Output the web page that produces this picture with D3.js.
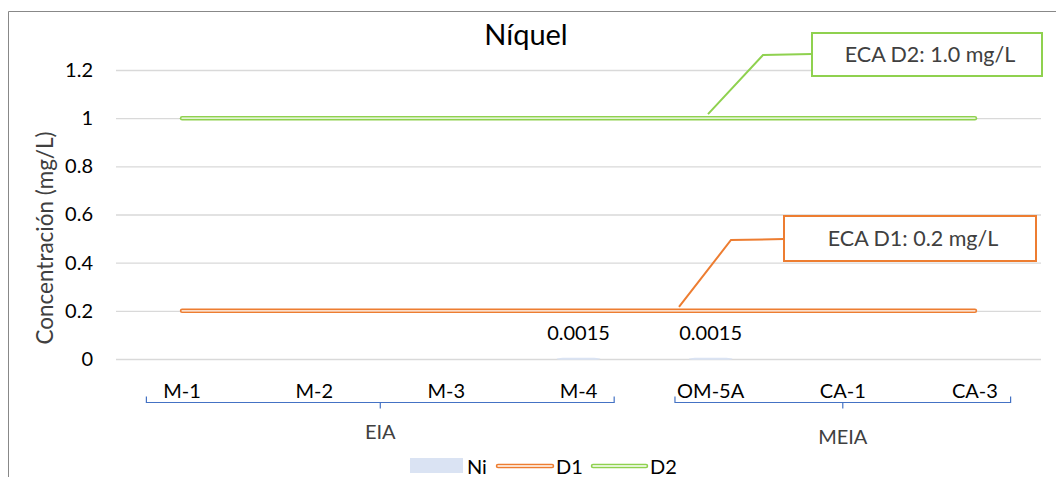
<!DOCTYPE html>
<html>
<head>
<meta charset="utf-8">
<script src="https://cdn.jsdelivr.net/npm/d3@7"></script>
<style>
  body { margin: 0; background: #fff; }
  svg { display: block; font-family: Lato, "Open Sans", sans-serif; }
</style>
</head>
<body>
<svg id="chart" width="1056" height="477"></svg>
<script>
// ---- data ----
const categories = ["M-1", "M-2", "M-3", "M-4", "OM-5A", "CA-1", "CA-3"];
const niValues = [null, null, null, 0.0015, 0.0015, null, null];
const d1Values = [0.2, 0.2, 0.2, 0.2, 0.2, 0.2, 0.2];
const d2Values = [1.0, 1.0, 1.0, 1.0, 1.0, 1.0, 1.0];
const yTicks = [0, 0.2, 0.4, 0.6, 0.8, 1, 1.2];
const groups = [
  { name: "EIA", from: "M-1", to: "M-4" },
  { name: "MEIA", from: "OM-5A", to: "CA-3" }
];
const seriesNames = ["Ni", "D1", "D2"];
const calloutTexts = ["ECA D1: 0.2 mg/L", "ECA D2: 1.0 mg/L"];

// ---- layout ----
const svg = d3.select("#chart");
const pLeft = 116, pRight = 1041, pTop = 70, pBottom = 359;
const colNi = "#dae3f3", colD1 = "#ed7d31", colD2 = "#8fd14f", grid = "#d9d9d9", blue = "#4472c4";
const fs = 20;

const x = d3.scaleBand().domain(categories).range([pLeft, pRight]).paddingInner(0).paddingOuter(0);
const y = d3.scaleLinear().domain([0, 1.2]).range([pBottom, pTop]);

// chart border (top + left visible)
svg.append("path").attr("d", "M8.5,477 V11.5 H1056").attr("fill", "none").attr("stroke", "#888").attr("stroke-width", 1);

// title
svg.append("text").attr("x", 526).attr("y", 45).attr("text-anchor", "middle")
  .attr("font-size", 29).attr("fill", "#000").text("Níquel");

// gridlines + y tick labels
const yAxis = d3.axisLeft(y).tickValues(yTicks).tickSize(-(pRight - pLeft)).tickPadding(23)
  .tickFormat(d => d3.format("")(d));
const gy = svg.append("g").attr("transform", `translate(${pLeft},0)`).call(yAxis);
gy.select(".domain").remove();
gy.selectAll(".tick line").attr("stroke", grid).attr("stroke-width", 1.3);
gy.selectAll(".tick text").attr("font-size", fs).attr("fill", "#000").attr("font-family", "Lato, sans-serif");

// y axis title
svg.append("text").attr("transform", "translate(53,238) rotate(-90)").attr("text-anchor", "middle")
  .attr("font-size", 22.5).attr("fill", "#404040").text("Concentración (mg/L)");

// Ni bars
const barW = x.bandwidth() * 0.33;
const bars = svg.append("g");
categories.forEach((c, i) => {
  const v = niValues[i];
  if (v == null) return;
  const cx = x(c) + x.bandwidth() / 2;
  bars.append("rect").attr("x", cx - barW / 2).attr("y", y(v) - 0.8)
    .attr("width", barW).attr("height", Math.max(y(0) - y(v), 0) + 1.6)
    .attr("rx", 6).attr("fill", colNi);
  svg.append("text").attr("x", cx).attr("y", y(v) - 19).attr("text-anchor", "middle")
    .attr("font-size", fs).attr("fill", "#000").text(String(v));
});

// double lines
function doubleLine(vals, color) {
  const line = d3.line().x((d, i) => x(categories[i]) + x.bandwidth() / 2).y(d => y(d));
  svg.append("path").attr("d", line(vals)).attr("fill", "none").attr("stroke", color)
    .attr("stroke-width", 4.5).attr("stroke-linecap", "round");
  svg.append("path").attr("d", line(vals)).attr("fill", "none").attr("stroke", "#fff")
    .attr("stroke-width", 1.4).attr("stroke-linecap", "round");
}
doubleLine(d1Values, colD1);
doubleLine(d2Values, colD2);

// category labels
const gx = svg.append("g");
categories.forEach(c => {
  gx.append("text").attr("x", x(c) + x.bandwidth() / 2).attr("y", 398).attr("text-anchor", "middle")
    .attr("font-size", fs).attr("fill", "#000").text(c);
});

// group brackets
const bY = 402.5;
groups.forEach((g, gi) => {
  const x0 = x(g.from) + x.bandwidth() * 0.23;
  const x1 = x(g.to) + x.bandwidth() * 0.77;
  const mid = (x0 + x1) / 2;
  svg.append("path").attr("d", `M${x0},${bY - 6} V${bY} H${x1} V${bY - 6}`)
    .attr("fill", "none").attr("stroke", blue).attr("stroke-width", 1.2);
  svg.append("path").attr("d", `M${mid},${bY} V${bY + 6}`).attr("stroke", blue).attr("stroke-width", 1.2);
  svg.append("text").attr("x", mid).attr("y", gi === 0 ? 439 : 444).attr("text-anchor", "middle")
    .attr("font-size", fs).attr("fill", "#404040").text(g.name);
});

// callouts
function callout(val, anchorX, elbow, box, color, label) {
  svg.append("path")
    .attr("d", `M${anchorX},${y(val) - 4} L${elbow[0]},${elbow[1]} L${box.x},${elbow[1] - 1}`)
    .attr("fill", "none").attr("stroke", color).attr("stroke-width", 2);
  svg.append("rect").attr("x", box.x).attr("y", box.y).attr("width", box.w).attr("height", box.h)
    .attr("fill", "#fff").attr("stroke", color).attr("stroke-width", 2);
  svg.append("text").attr("x", box.x + box.w / 2 + 3).attr("y", box.y + box.h / 2 + 7.5)
    .attr("text-anchor", "middle").attr("font-size", 21.5).attr("fill", "#404040").text(label);
}
callout(d1Values[4], 679, [731, 240], { x: 784, y: 216, w: 252, h: 45 }, colD1, calloutTexts[0]);
callout(d2Values[4], 708, [763, 55], { x: 812, y: 33, w: 230, h: 43 }, colD2, calloutTexts[1]);

// legend
const lg = svg.append("g");
lg.append("rect").attr("x", 410).attr("y", 458).attr("width", 53).attr("height", 15).attr("fill", colNi);
lg.append("text").attr("x", 467).attr("y", 474).attr("font-size", fs).attr("fill", "#000").text(seriesNames[0]);
[[498, 552, colD1, 556, seriesNames[1]], [593, 646, colD2, 650, seriesNames[2]]].forEach(([a, b, c, tx, t]) => {
  lg.append("line").attr("x1", a).attr("x2", b).attr("y1", 466).attr("y2", 466)
    .attr("stroke", c).attr("stroke-width", 4.5).attr("stroke-linecap", "round");
  lg.append("line").attr("x1", a).attr("x2", b).attr("y1", 466).attr("y2", 466)
    .attr("stroke", "#fff").attr("stroke-width", 1.4).attr("stroke-linecap", "round");
  lg.append("text").attr("x", tx).attr("y", 474).attr("font-size", fs).attr("fill", "#000").text(t);
});
</script>
</body>
</html>
